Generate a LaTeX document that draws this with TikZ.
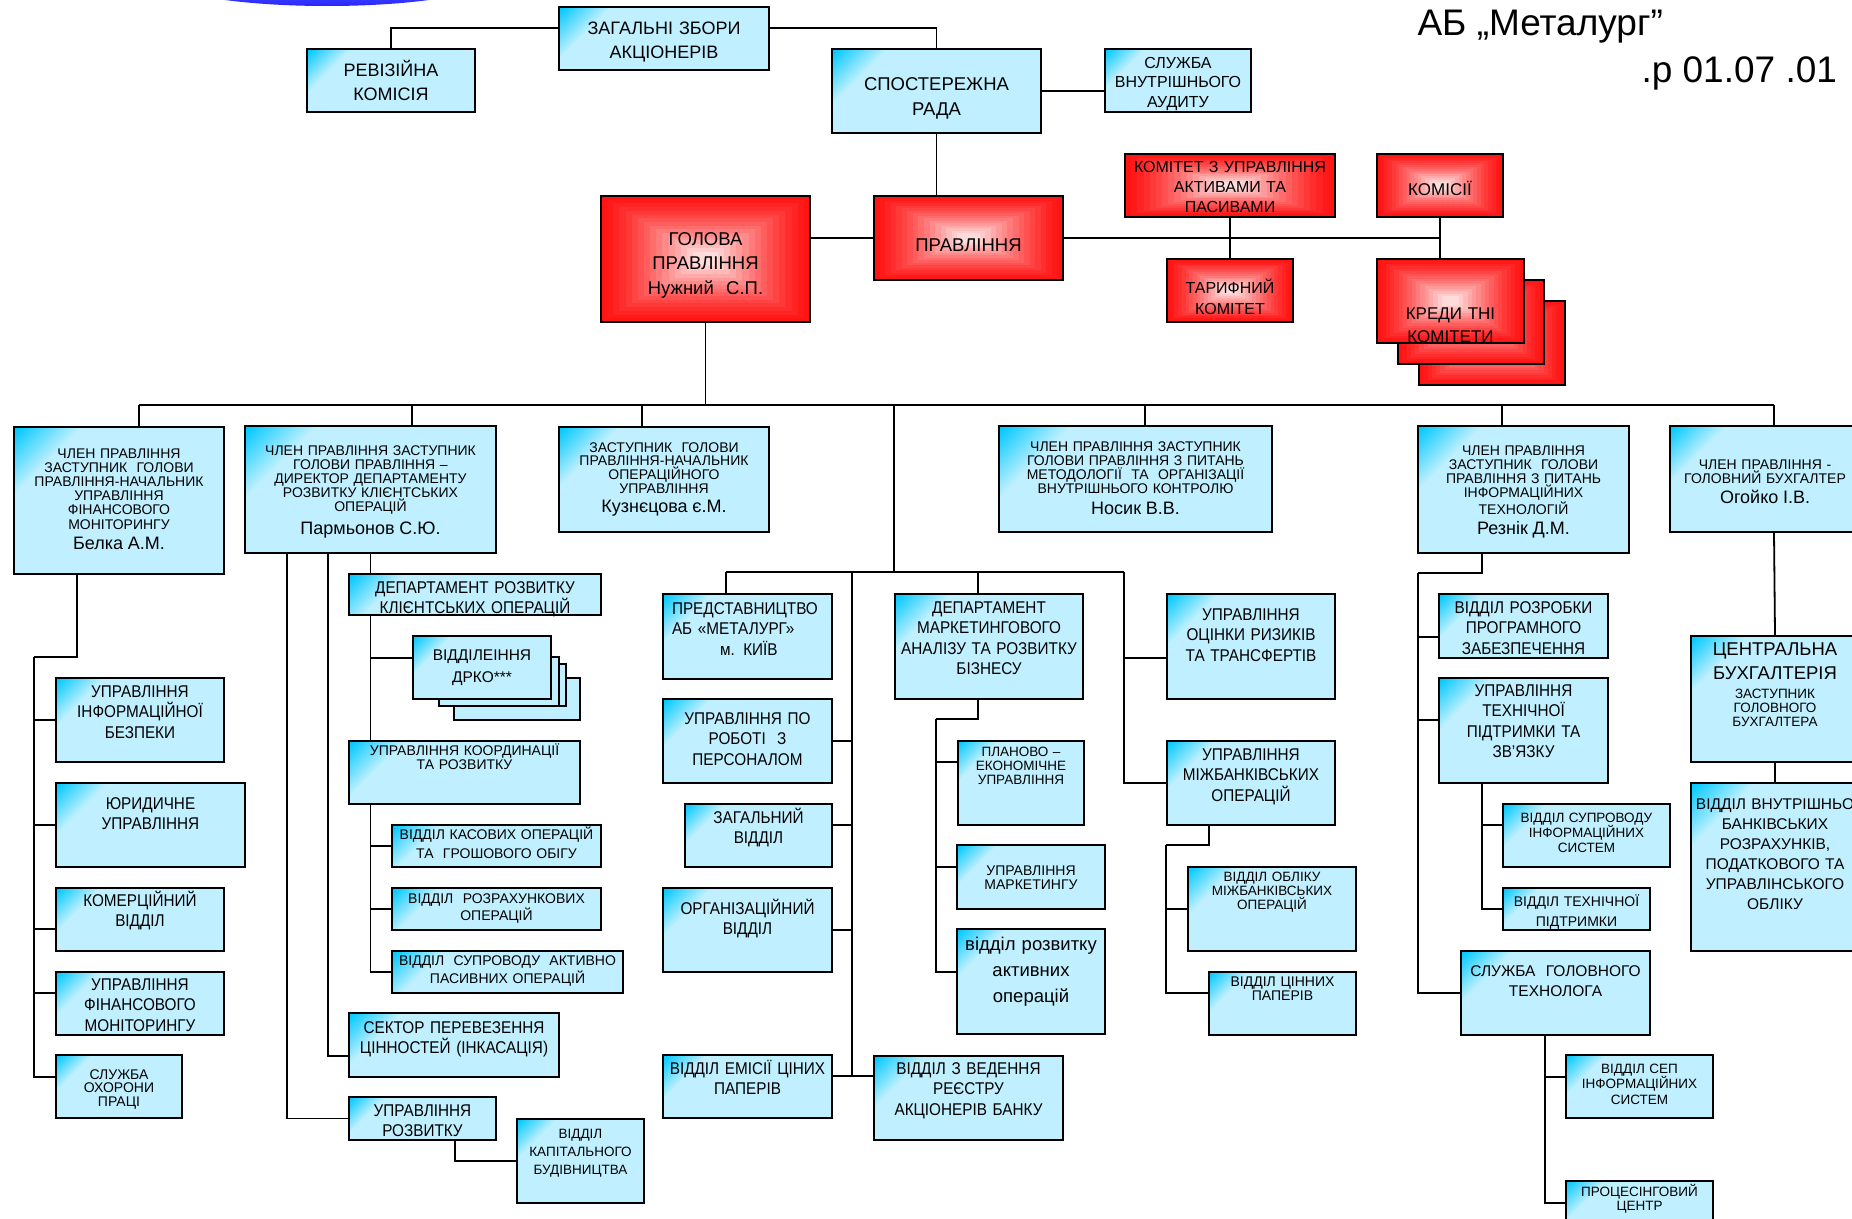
\documentclass[tikz,border=0pt]{standalone}
\usepackage{fontspec}
\setmainfont{Liberation Sans}
\newfontfamily\narrowsans[FakeStretch=0.9]{Liberation Sans}
\usepackage{tikz}
\usetikzlibrary{positioning,calc,backgrounds}
\definecolor{cyanlite}{RGB}{192,240,255}
\definecolor{cyandeep}{RGB}{0,200,255}
\definecolor{boxred}{RGB}{255,20,20}
\pgfdeclarehorizontalshading{cornerfade}{100bp}{color(0bp)=(cyandeep); color(15bp)=(cyandeep); color(28bp)=(cyanlite); color(100bp)=(cyanlite)}
\newcommand\pname[1]{{\fontsize{18}{20}\selectfont #1}}

\begin{document}
\begin{tikzpicture}[x=1pt,y=-1pt,
  bx/.style={draw,line width=2pt,shade,shading=cornerfade,shading angle=-45,anchor=north west,inner xsep=0pt,inner ysep=0pt,align=center},
  rbx/.style={draw,line width=2pt,anchor=north west,inner sep=0pt,align=center,
    path picture={\foreach \k in {0,...,15}{
      \pgfmathsetmacro\redpc{100-85*(\k/15)^1.3}
      \fill[boxred!\redpc!white] ($(path picture bounding box.north west)!\k/34!(path picture bounding box.south east)$) rectangle ($(path picture bounding box.south east)!\k/34!(path picture bounding box.north west)$);}}},
  sz/.style n args={3}{minimum width=#1pt,text width=#1pt,text height=#2pt,text depth=#3pt},
  ln/.style={line width=1.8pt},
  fn/.style={font=\narrowsans\fontsize{17}{20.5}\selectfont},
  fs/.style={font=\fontsize{14}{14.2}\selectfont},
  fm/.style={font=\fontsize{16}{20}\selectfont}
]
\useasboundingbox (0,0) rectangle (1852,1218);

% title
\node[font=\fontsize{37}{40}\selectfont,anchor=base west] (bank) at (1414,35) {АБ „Металург”};
\node[font=\fontsize{37}{40}\selectfont,anchor=base west] (date) at (1638,82) {.р 01.07 .01};

% top level
\node[bx,sz={210}{27.5}{35.5},font=\fontsize{18}{23.5}\selectfont] (zbory) at (558,6) {ЗАГАЛЬНІ ЗБОРИ\\АКЦІОНЕРІВ};
\node[bx,sz={168}{27.5}{35.5},font=\fontsize{18}{24}\selectfont] (reviz) at (306,48) {РЕВІЗІЙНА\\КОМІСІЯ};
\node[bx,sz={209}{41}{43},font=\fontsize{18.5}{25}\selectfont] (rada) at (831,48) {СПОСТЕРЕЖНА\\РАДА};
\node[bx,sz={146}{19}{44},font=\fontsize{16}{19.5}\selectfont] (audit) at (1104,48) {СЛУЖБА\\ВНУТРІШНЬОГО\\АУДИТУ};

% board
\node[rbx,sz={209}{49}{77},font=\fontsize{18.5}{24.5}\selectfont] (golova) at (600,195) {ГОЛОВА\\ПРАВЛІННЯ\\Нужний\ \ С.П.};
\node[rbx,sz={189}{55}{29},font=\fontsize{18.5}{24}\selectfont] (pravl) at (873,195) {ПРАВЛІННЯ};
\node[rbx,sz={210}{18}{45},fm] (alco) at (1124,153) {КОМІТЕТ З УПРАВЛІННЯ\\АКТИВАМИ ТА\\ПАСИВАМИ};
\node[rbx,sz={126}{41}{22},font=\fontsize{17}{20}\selectfont] (komisii) at (1376,153) {КОМІСІЇ};
\node[rbx,sz={126}{34}{29},font=\fontsize{16}{21}\selectfont] (tarif) at (1166,258) {ТАРИФНИЙ\\КОМІТЕТ};
\node[rbx,minimum width=146pt,minimum height=84pt] (cr3) at (1418,300) {};
\node[rbx,minimum width=146pt,minimum height=84pt] (cr2) at (1397,279) {};
\node[rbx,sz={147}{60}{24},font=\fontsize{17}{23}\selectfont] (cr1) at (1376,258) {КРЕДИ ТНІ\\КОМІТЕТИ};

% members of the board
\node[bx,sz={210}{31}{116},fs] (belka) at (13,426) {ЧЛЕН ПРАВЛІННЯ\\ЗАСТУПНИК\ \ ГОЛОВИ\\ПРАВЛІННЯ-НАЧАЛЬНИК\\УПРАВЛІННЯ\\ФІНАНСОВОГО\\МОНІТОРИНГУ\\[6pt]\pname{Белка А.М.}};
\node[bx,sz={251}{29}{98},fs] (parm) at (244,425) {ЧЛЕН ПРАВЛІННЯ ЗАСТУПНИК\\ГОЛОВИ ПРАВЛІННЯ –\\ДИРЕКТОР ДЕПАРТАМЕНТУ\\РОЗВИТКУ КЛІЄНТСЬКИХ\\ОПЕРАЦІЙ\\[6pt]\pname{Пармьонов\ С.Ю.}};
\node[bx,sz={210}{25}{80},font=\fontsize{14}{13.7}\selectfont] (kuz) at (558,426) {ЗАСТУПНИК\ \ ГОЛОВИ\\ПРАВЛІННЯ-НАЧАЛЬНИК\\ОПЕРАЦІЙНОГО\\УПРАВЛІННЯ\\[6pt]\pname{Кузнєцова є.М.}};
\node[bx,sz={273}{25}{81},fs] (nosik) at (998,425) {ЧЛЕН ПРАВЛІННЯ ЗАСТУПНИК\\ГОЛОВИ ПРАВЛІННЯ З ПИТАНЬ\\МЕТОДОЛОГІЇ\ \ ТА\ \ ОРГАНІЗАЦІЇ\\ВНУТРІШНЬОГО КОНТРОЛЮ\\[7pt]\pname{Носик В.В.}};
\node[bx,sz={211}{29}{98},fs] (rez) at (1417,425) {ЧЛЕН ПРАВЛІННЯ\\ЗАСТУПНИК\ \ ГОЛОВИ\\ПРАВЛІННЯ З ПИТАНЬ\\ІНФОРМАЦІЙНИХ\\ТЕХНОЛОГІЙ\\[6pt]\pname{Резнік Д.М.}};
\node[bx,sz={190}{43}{63},fs] (ogo) at (1669,425) {ЧЛЕН ПРАВЛІННЯ -\\ГОЛОВНИЙ БУХГАЛТЕР\\[6pt]\pname{Огойко І.В.}};

% Belka
\node[bx,sz={168}{19}{65},fn] (bez) at (55,677) {УПРАВЛІННЯ\\ІНФОРМАЦІЙНОЇ\\БЕЗПЕКИ};
\node[bx,sz={189}{26}{58},fn] (yur) at (55,782) {ЮРИДИЧНЕ\\УПРАВЛІННЯ};
\node[bx,sz={168}{18}{45},fn] (kom) at (55,887) {КОМЕРЦІЙНИЙ\\ВІДДІЛ};
\node[bx,sz={168}{18}{45},fn] (fin) at (55,971) {УПРАВЛІННЯ\\ФІНАНСОВОГО\\МОНІТОРИНГУ};
\node[bx,sz={126}{24}{39},font=\fontsize{14}{13.5}\selectfont] (okh) at (55,1054) {СЛУЖБА\\ОХОРОНИ\\ПРАЦІ};

% Parmonov
\node[bx,sz={252}{19}{22},fn] (dep) at (348,573) {ДЕПАРТАМЕНТ РОЗВИТКУ\\КЛІЄНТСЬКИХ ОПЕРАЦІЙ};
\node[bx,minimum width=126pt,minimum height=42pt] (drko4) at (453,677) {};
\node[bx,minimum width=120pt,minimum height=42pt] (drko3) at (445,663) {};
\node[bx,minimum width=120pt,minimum height=49pt] (drko2) at (438,656) {};
\node[bx,sz={138}{24}{39},font=\fontsize{15.5}{22}\selectfont] (drko) at (412,635) {ВІДДІЛЕІННЯ\\ДРКО***};
\node[bx,sz={231}{14}{49},font=\fontsize{14}{14}\selectfont] (koord) at (348,740) {УПРАВЛІННЯ КООРДИНАЦІЇ\\ТА РОЗВИТКУ};
\node[bx,sz={209}{14}{28},font=\fontsize{14}{19}\selectfont] (kas) at (391,824) {ВІДДІЛ КАСОВИХ ОПЕРАЦІЙ\\ТА\ \ ГРОШОВОГО ОБІГУ};
\node[bx,sz={209}{15}{27},font=\fontsize{14}{17}\selectfont] (rozr) at (391,887) {ВІДДІЛ\ \ РОЗРАХУНКОВИХ\\ОПЕРАЦІЙ};
\node[bx,sz={231}{14}{28},font=\fontsize{14}{18}\selectfont] (supr) at (391,950) {ВІДДІЛ\ \ СУПРОВОДУ\ \ АКТИВНО\\ПАСИВНИХ ОПЕРАЦІЙ};
\node[bx,sz={210}{20}{44},fn] (inkas) at (348,1012) {СЕКТОР ПЕРЕВЕЗЕННЯ\\ЦІННОСТЕЙ (ІНКАСАЦІЯ)\\[4pt].};
\node[bx,sz={147}{19}{24},fn] (rozv) at (348,1096) {УПРАВЛІННЯ\\РОЗВИТКУ};
\node[bx,sz={127}{19}{65},font=\fontsize{13.5}{18}\selectfont] (kap) at (516,1118) {ВІДДІЛ\\КАПІТАЛЬНОГО\\БУДІВНИЦТВА};

% Kuznetsova
\node[bx,sz={151}{20}{65},fn,align=left,inner xsep=9pt] (pred) at (662,593) {ПРЕДСТАВНИЦТВО\\АБ «МЕТАЛУРГ»\\\hspace*{48pt}м. КИЇВ};
\node[bx,sz={169}{25}{59},fn] (pers) at (662,698) {УПРАВЛІННЯ ПО\\РОБОТІ\ \ З\\ПЕРСОНАЛОМ};
\node[bx,sz={147}{19}{44},fn] (zag) at (684,803) {ЗАГАЛЬНИЙ\\ВІДДІЛ};
\node[bx,sz={169}{26}{58},fn] (org) at (662,887) {ОРГАНІЗАЦІЙНИЙ\\ВІДДІЛ};
\node[bx,sz={169}{19}{44},fn] (emis) at (662,1054) {ВІДДІЛ ЕМІСІЇ ЦІНИХ\\ПАПЕРІВ};
\node[bx,sz={189}{18}{66},fn] (reestr) at (873,1055) {ВІДДІЛ З ВЕДЕННЯ\\РЕЄСТРУ\\АКЦІОНЕРІВ БАНКУ};

% marketing
\node[bx,sz={188}{19}{86},fn] (mark) at (894,593) {ДЕПАРТАМЕНТ\\МАРКЕТИНГОВОГО\\АНАЛІЗУ ТА РОЗВИТКУ\\БІЗНЕСУ};
\node[bx,sz={126}{15}{69},font=\fontsize{13.5}{14}\selectfont] (plan) at (957,740) {ПЛАНОВО –\\ЕКОНОМІЧНЕ\\УПРАВЛІННЯ};
\node[bx,sz={148}{30}{34},font=\fontsize{14}{14}\selectfont] (mrk) at (956,844) {УПРАВЛІННЯ\\МАРКЕТИНГУ};
\node[bx,sz={148}{21}{84},font=\fontsize{18.5}{26}\selectfont] (akt) at (956,928) {відділ розвитку\\активних\\операцій};

% Nosik
\node[bx,sz={168}{26}{79},fn] (risk) at (1166,593) {УПРАВЛІННЯ\\ОЦІНКИ РИЗИКІВ\\ТА ТРАНСФЕРТІВ};
\node[bx,sz={168}{19}{65},fn] (mizh) at (1166,740) {УПРАВЛІННЯ\\МІЖБАНКІВСЬКИХ\\ОПЕРАЦІЙ};
\node[bx,sz={168}{14}{70},font=\fontsize{13.5}{14}\selectfont] (obl) at (1187,866) {ВІДДІЛ ОБЛІКУ\\МІЖБАНКІВСЬКИХ\\ОПЕРАЦІЙ};
\node[bx,sz={147}{14}{49},font=\fontsize{14}{14}\selectfont] (cinn) at (1208,971) {ВІДДІЛ ЦІННИХ\\ПАПЕРІВ};

% Reznik
\node[bx,sz={169}{19}{45},fn] (rpz) at (1438,593) {ВІДДІЛ РОЗРОБКИ\\ПРОГРАМНОГО\\ЗАБЕЗПЕЧЕННЯ};
\node[bx,sz={169}{18}{87},fn] (tech) at (1438,677) {УПРАВЛІННЯ\\ТЕХНІЧНОЇ\\ПІДТРИМКИ ТА\\ЗВ’ЯЗКУ};
\node[bx,sz={167}{18}{45},font=\fontsize{13.5}{15}\selectfont] (sis) at (1502,803) {ВІДДІЛ СУПРОВОДУ\\ІНФОРМАЦІЙНИХ\\СИСТЕМ};
\node[bx,sz={147}{18}{24},font=\fontsize{14}{20}\selectfont] (tp) at (1502,887) {ВІДДІЛ ТЕХНІЧНОЇ\\ПІДТРИМКИ};
\node[bx,sz={189}{25}{59},font=\fontsize{15.5}{20}\selectfont] (gtech) at (1460,950) {СЛУЖБА\ \ ГОЛОВНОГО\\ТЕХНОЛОГА};
\node[bx,sz={147}{18}{45},font=\fontsize{13.5}{15.5}\selectfont] (sep) at (1565,1054) {ВІДДІЛ СЕП\\ІНФОРМАЦІЙНИХ\\СИСТЕМ};
\node[bx,sz={147}{15}{45},font=\fontsize{13.5}{14}\selectfont] (proc) at (1565,1180) {ПРОЦЕСІНГОВИЙ\\ЦЕНТР};

% Ogoiko
\node[bx,sz={168}{19.5}{106.5},font=\fontsize{18.5}{24}\selectfont] (cb) at (1690,635) {ЦЕНТРАЛЬНА\\БУХГАЛТЕРІЯ\par\vspace{4.5pt}{\fontsize{13.5}{14}\selectfont ЗАСТУПНИК\\ГОЛОВНОГО\\БУХГАЛТЕРА\par}};
\node[bx,sz={168}{26}{142},font=\fontsize{15.5}{20}\selectfont] (vnut) at (1690,782) {ВІДДІЛ ВНУТРІШНЬО\\БАНКІВСЬКИХ\\РОЗРАХУНКІВ,\\ПОДАТКОВОГО ТА\\УПРАВЛІНСЬКОГО\\ОБЛІКУ};

\coordinate (busL) at (139,405);
\coordinate (busR) at (1774,405);
\coordinate (tapP) at (412,405);
\coordinate (tapK) at (642,405);
\coordinate (tapC) at (894,405);
\coordinate (tapN) at (1145,405);
\coordinate (tapR) at (1502,405);
\coordinate (subL) at (726,572);
\coordinate (subM) at (852,572);
\coordinate (subC) at (978,572);
\coordinate (subR) at (1124,572);
\coordinate (belkaT) at (34,657);
\coordinate (markT) at (936,719);
\coordinate (mizhT) at (1166,845);
\coordinate (rezT) at (1418,573);

\begin{scope}[on background layer]
\shade[top color=blue!30!white,bottom color=blue!85] (327,-24) ellipse [x radius=170,y radius=30];
% top
\draw[ln] ([yshift=10.5pt]zbory.west) -| (reviz.north);
\draw[ln] ([yshift=10.5pt]zbory.east) -| (rada.north);
\draw[ln] (rada.east) -- (rada.east -| audit.west);
\draw[ln] (rada.south) -- (rada.south |- pravl.north);
\draw[ln] (pravl.west) -- (pravl.west -| golova.east);
\draw[ln] (pravl.east) -| (komisii.south);
\draw[ln] (komisii.south) -- (komisii.south |- cr1.north);
\draw[ln] (alco.south) -- (tarif.north);
% bus
\draw[ln] (golova.south) -- (golova.south |- busL);
\draw[ln] (busL) -- (busR);
\draw[ln] (busL) -- (busL |- belka.north);
\draw[ln] (tapP) -- (tapP |- parm.north);
\draw[ln] (tapK) -- (tapK |- kuz.north);
\draw[ln] (tapN) -- (tapN |- nosik.north);
\draw[ln] (tapR) -- (tapR |- rez.north);
\draw[ln] (busR) -- (busR |- ogo.north);
% Belka
\draw[ln] ([xshift=-42pt]belka.south) |- (belkaT);
\draw[ln] (belkaT) |- (bez.west);
\draw[ln] (belkaT) |- (yur.west);
\draw[ln] (belkaT) |- ([yshift=-9.5pt]kom.west);
\draw[ln] (belkaT) |- ([yshift=10.5pt]fin.west);
\draw[ln] (belkaT) |- ([yshift=9.5pt]okh.west);
% Parmonov
\draw[ln] (parm.south) -- (parm.south |- dep.north);
\draw[ln] (parm.south |- dep.south) |- ([yshift=9.5pt]drko.west);
\draw[ln] (parm.south |- dep.south) -- (parm.south |- koord.north);
\draw[ln] (parm.south |- koord.south) |- (kas.west);
\draw[ln] (parm.south |- koord.south) |- (rozr.west);
\draw[ln] (parm.south |- koord.south) |- (supr.west);
\draw[ln] ([xshift=-42.5pt]parm.south) |- ([yshift=-11pt]inkas.west);
\draw[ln] ([xshift=-83.5pt]parm.south) |- (rozv.west);
\draw[ln] ([xshift=32.5pt]rozv.south) |- (kap.west);
% centre
\draw[ln] (tapC) -- (tapC |- subL);
\draw[ln] (subL) -- (subR);
\draw[ln] (subL) -- (subL |- pred.north);
\draw[ln] (subC) -- (subC |- mark.north);
\draw[ln] (subM) |- (pers.east);
\draw[ln] (subM) |- ([yshift=10.5pt]zag.east);
\draw[ln] (subM) |- (org.east);
\draw[ln] (subM) |- ([yshift=10.5pt]emis.east);
\draw[ln] ([yshift=10.5pt]emis.east) -- ([yshift=10.5pt]emis.east -| reestr.west);
\draw[ln] (subC |- mark.south) |- (markT);
\draw[ln] (markT) |- ([yshift=21pt]plan.west);
\draw[ln] (markT) |- ([yshift=10pt]mrk.west);
\draw[ln] (markT) |- ([yshift=9.5pt]akt.west);
\draw[ln] (subR) |- ([yshift=-11.5pt]risk.west);
\draw[ln] (subR) |- (mizh.west);
\draw[ln] ([xshift=-42pt]mizh.south) |- (mizhT);
\draw[ln] (mizhT) |- (obl.west);
\draw[ln] (mizhT) |- ([yshift=10.5pt]cinn.west);
% Reznik
\draw[ln] ([xshift=-41.5pt]rez.south) |- (rezT);
\draw[ln] (rezT) |- ([yshift=-11pt]rpz.west);
\draw[ln] (rezT) |- ([yshift=10.5pt]tech.west);
\draw[ln] (rezT) |- (gtech.west);
\draw[ln] ([xshift=-41.5pt]tech.south) |- ([yshift=10.5pt]sis.west);
\draw[ln] ([xshift=-41.5pt]tech.south) |- (tp.west);
\draw[ln] ([xshift=-10.5pt]gtech.south) |- ([yshift=9.5pt]sep.west);
\draw[ln] ([xshift=-10.5pt]gtech.south) |- ([yshift=8pt]proc.west);
% Ogoiko
\draw[ln] (busR |- ogo.south) -- (cb.north);
\draw[ln] (cb.south) -- (vnut.north);
\end{scope}
\end{tikzpicture}
\end{document}
